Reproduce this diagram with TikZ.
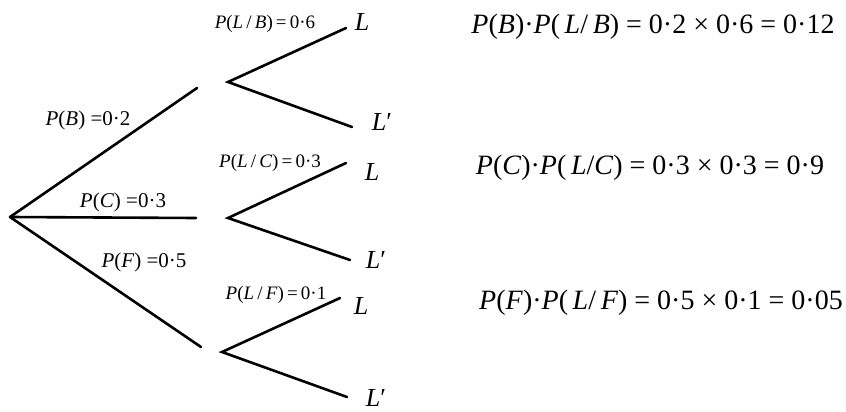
\documentclass[tikz,border=0pt]{standalone}
\usepackage{fontspec}
\setmainfont{Liberation Serif}
\newcommand{\iv}[1]{\textit{#1}}
\begin{document}
\begin{tikzpicture}[x=1pt,y=-1pt,
  branch/.style={line width=2.6pt, line cap=round},
  lab/.style={inner sep=0pt, font=\fontsize{19}{19}\selectfont},
  toplab/.style={inner sep=0pt, font=\fontsize{21}{21}\selectfont},
  leaf/.style={inner sep=0pt, font=\fontsize{26}{26}\selectfont},
  eq/.style={inner sep=0pt, font=\fontsize{28}{28}\selectfont}]
\useasboundingbox (0,0) rectangle (846,412);
% first level
\coordinate (root) at (10,217);
\coordinate (eB) at (197,88);
\coordinate (eC) at (196,218);
\coordinate (eF) at (201,347);
\draw[branch] (root) -- (eB);
\draw[branch] (root) -- (eC);
\draw[branch] (root) -- (eF);
% second level
\coordinate (sB) at (228,82);
\coordinate (sC) at (228,218);
\coordinate (sF) at (222,352);
\coordinate (BL) at (346,28);
\coordinate (BLp) at (352,127);
\coordinate (CL) at (346,163);
\coordinate (CLp) at (350,260);
\coordinate (FL) at (340,298);
\coordinate (FLp) at (347,397);
\draw[branch] (BL) -- (sB) -- (BLp);
\draw[branch] (CL) -- (sC) -- (CLp);
\draw[branch] (FL) -- (sF) -- (FLp);
% leaf labels
\node[leaf] (tBL) at (362,22) {\iv{L}};
\node[leaf] (tBLp) at (382,122) {\iv{L}′};
\node[leaf] (tCL) at (372,172) {\iv{L}};
\node[leaf] (tCLp) at (376,260) {\iv{L}′};
\node[leaf] (tFL) at (361,306) {\iv{L}};
\node[leaf] (tFLp) at (376,398) {\iv{L}′};
% branch labels
\node[toplab] (pB) at (88,120) {\iv{P}(\iv{B}) =0·2};
\node[toplab] (pC) at (123,202) {\iv{P}(\iv{C}) =0·3};
\node[toplab] (pF) at (144,262) {\iv{P}(\iv{F}) =0·5};
\node[lab] (pLB) at (265,24) {\iv{P}(\iv{L}\,/\,\iv{B})\,=\,0·6};
\node[lab] (pLC) at (270,163) {\iv{P}(\iv{L}\,/\,\iv{C})\,=\,0·3};
\node[lab] (pLF) at (276,295) {\iv{P}(\iv{L}\,/\,\iv{F})\,=\,0·1};
% equations
\node[eq] (e1) at (653,27) {\iv{P}(\iv{B})·\iv{P}(\,\iv{L}/\,\iv{B}) = 0·2 × 0·6 = 0·12};
\node[eq] (e2) at (650,168) {\iv{P}(\iv{C})·\iv{P}(\,\iv{L}/\iv{C}) = 0·3 × 0·3 = 0·9};
\node[eq] (e3) at (661,303) {\iv{P}(\iv{F})·\iv{P}(\,\iv{L}/\,\iv{F}) = 0·5 × 0·1 = 0·05};
\end{tikzpicture}
\end{document}
